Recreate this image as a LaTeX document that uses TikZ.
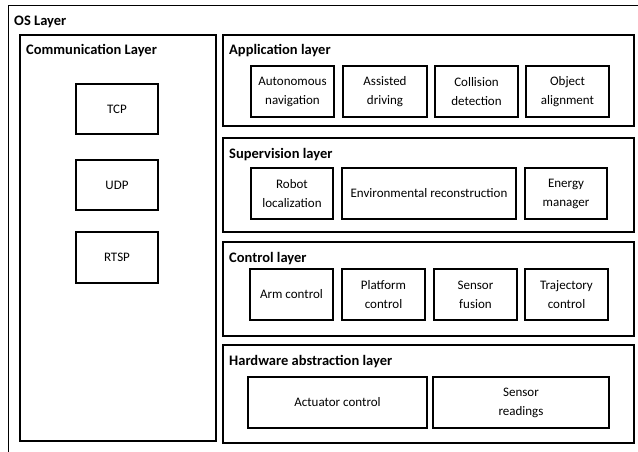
\documentclass[tikz,border=0pt]{standalone}
\usepackage{fontspec}
\setmainfont{Carlito}
\usetikzlibrary{positioning}

\begin{document}
\begin{tikzpicture}[
        x=1pt, y=-1pt,
        every node/.style={font=\fontsize{13}{19}\selectfont},
        layer/.style={draw, line width=1.1pt, inner sep=0pt},
        module/.style={draw, line width=1.1pt, inner sep=0pt, minimum height=51, align=center},
        title/.style={anchor=west, inner sep=0pt, font=\fontsize{14.5}{19}\selectfont\bfseries}
    ]
        \useasboundingbox (0,0) rectangle (638,451);
        \clip (0,0) rectangle (638,451);

        % OS frame, runs off the page
        \node[layer, minimum width=640, minimum height=460, anchor=north west] (os) at (8,5) {};
        \node[title] (ostitle) at (14,21.5) {OS Layer};

        % Communication layer
        \node[layer, minimum width=196, minimum height=406] (comm) at (118,238) {};
        \node[title] (commtitle) at (26,50.5) {Communication Layer};
        \node[module, minimum width=82, minimum height=50] (tcp) at (117,109) {TCP};
        \node[module, minimum width=82, minimum height=50] (udp) at (117,185) {UDP};
        \node[module, minimum width=82] (rtsp) at (117,257.5) {RTSP};

        % Application layer
        \node[layer, minimum width=411, minimum height=91] (app) at (428.5,80.5) {};
        \node[title] (apptitle) at (229,50.5) {Application layer};
        \node[module, minimum width=83] (nav) at (292.5,91.5) {Autonomous\\navigation};
        \node[module, minimum width=84] (drive) at (385,91.5) {Assisted\\driving};
        \node[module, minimum width=83] (coll) at (476.5,91.5) {Collision\\detection};
        \node[module, minimum width=83] (align) at (567.5,91.5) {Object\\alignment};

        % Supervision layer
        \node[layer, minimum width=411, minimum height=94] (sup) at (428.5,185) {};
        \node[title] (suptitle) at (229,154.5) {Supervision layer};
        \node[module, minimum width=82] (loc) at (292,193.5) {Robot\\localization};
        \node[module, minimum width=174] (env) at (429,193.5) {Environmental reconstruction};
        \node[module, minimum width=82] (energy) at (566,193.5) {Energy\\manager};

        % Control layer
        \node[layer, minimum width=411, minimum height=94] (ctrl) at (428.5,289) {};
        \node[title] (ctrltitle) at (229,258.5) {Control layer};
        \node[module, minimum width=83] (arm) at (291.5,294.5) {Arm control};
        \node[module, minimum width=83] (plat) at (383.5,294.5) {Platform\\control};
        \node[module, minimum width=83] (fusion) at (475.5,294.5) {Sensor\\fusion};
        \node[module, minimum width=83] (traj) at (566.5,294.5) {Trajectory\\control};

        % Hardware abstraction layer
        \node[layer, minimum width=411, minimum height=98] (hal) at (428.5,394) {};
        \node[title] (haltitle) at (229,361.5) {Hardware abstraction layer};
        \node[module, minimum width=179] (act) at (337.5,402.5) {Actuator control};
        \node[module, minimum width=176] (read) at (521,402.5) {Sensor\\readings};
    \end{tikzpicture}
\end{document}
